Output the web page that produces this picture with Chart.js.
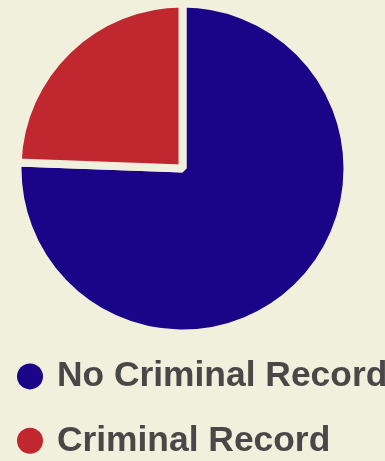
<!DOCTYPE html>
<html>
<head>
<meta charset="utf-8">
<script src="https://cdn.jsdelivr.net/npm/chart.js@4/dist/chart.umd.min.js"></script>
<style>
  html, body { margin: 0; padding: 0; background: #f1f0dd; }
  #wrap { width: 385px; height: 461px; position: relative; }
</style>
</head>
<body>
<div id="wrap"><canvas id="pie"></canvas></div>
<script>
// Share of people with / without a criminal record (percent)
const categories = ['No Criminal Record', 'Criminal Record'];
const shares = [75.6, 24.4];
const sliceColors = ['#1a0588', '#c1272f'];
const pageBg = '#f1f0dd';

const baseLabels = Chart.overrides.doughnut.plugins.legend.labels.generateLabels;

new Chart(document.getElementById('pie'), {
  type: 'pie',
  data: {
    labels: categories,
    datasets: [{
      data: shares,
      backgroundColor: sliceColors,
      borderColor: pageBg,
      borderWidth: 8,
      clip: false
    }]
  },
  options: {
    responsive: true,
    maintainAspectRatio: false,
    animation: false,
    radius: 165,
    layout: { padding: { top: 7.5, bottom: -7.5, left: -8.2, right: -10 } },
    plugins: {
      tooltip: { enabled: false },
      // empty spacer on the right keeps the pie off-centre while the legend runs full width
      title: {
        display: true,
        text: '',
        position: 'right',
        fullSize: false,
        font: { size: 10, lineHeight: 1 },
        padding: 10
      },
      legend: {
        position: 'bottom',
        align: 'start',
        labels: {
          usePointStyle: true,
          pointStyle: 'circle',
          boxWidth: 18.4,
          boxHeight: 18.4,
          padding: 29,
          color: '#484848',
          font: { family: '"Liberation Sans", Arial, sans-serif', size: 35.4, weight: 'bold' },
          generateLabels: (chart) => baseLabels(chart).map(item => ({ ...item, lineWidth: 0 }))
        }
      }
    }
  }
});
</script>
</body>
</html>
